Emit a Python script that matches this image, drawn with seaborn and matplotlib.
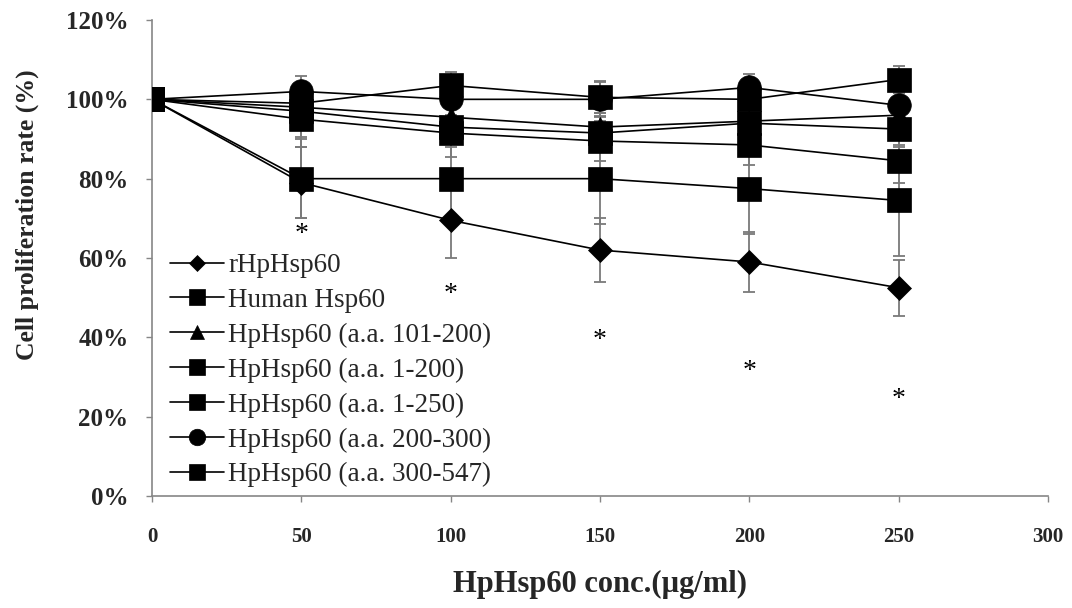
import matplotlib
matplotlib.use("Agg")
import matplotlib.pyplot as plt
import seaborn as sns
import pandas as pd
from matplotlib.ticker import FuncFormatter

conc = [0, 50, 100, 150, 200, 250]
series_names = [
    "rHpHsp60",
    "Human Hsp60",
    "HpHsp60 (a.a. 101-200)",
    "HpHsp60 (a.a. 1-200)",
    "HpHsp60 (a.a. 1-250)",
    "HpHsp60 (a.a. 200-300)",
    "HpHsp60 (a.a. 300-547)",
]
rhphsp60 = [100, 79, 69.5, 62, 59, 52.5]
rhphsp60_err = [0, 9, 9.5, 8, 7.5, 7]
human = [100, 80, 80, 80, 77.5, 74.5]
human_err = [0, 10, 10, 11.5, 11.5, 14]
aa101_200 = [100, 98, 95.5, 93, 94.5, 96]
aa101_200_err = [0, 4, 4, 3.5, 4, 4]
aa1_200 = [100, 97, 93, 91.5, 94, 92.5]
aa1_200_err = [0, 6.5, 5, 4, 4, 4.5]
aa1_250 = [100, 95, 91.5, 89.5, 88.5, 84.5]
aa1_250_err = [0, 7, 6, 5, 5, 5.5]
aa200_300 = [100, 102, 100, 100, 103, 98.5]
aa200_300_err = [0, 4, 4, 4.3, 3.3, 4]
aa300_547 = [100, 99, 103.5, 100.5, 100, 105]
aa300_547_err = [0, 4, 3.3, 4, 4, 3.3]

star_x = [50, 100, 150, 200, 250]
star_y = [65.8, 50.8, 39.3, 31.3, 24.3]

y_ticks = [0, 20, 40, 60, 80, 100, 120]
x_ticks = [0, 50, 100, 150, 200, 250, 300]

values = [rhphsp60, human, aa101_200, aa1_200, aa1_250, aa200_300, aa300_547]
errors = [rhphsp60_err, human_err, aa101_200_err, aa1_200_err, aa1_250_err,
          aa200_300_err, aa300_547_err]
marker_list = ["D", "s", "^", "s", "s", "o", "s"]
msizes = [12, 17, 15, 17, 17, 17, 17]

rows = []
for name, vals in zip(series_names, values):
    for c, v in zip(conc, vals):
        rows.append({"conc": c, "rate": v, "series": name})
df = pd.DataFrame(rows)

sns.set_style("ticks")
plt.rcParams["font.family"] = ["Liberation Serif", "DejaVu Serif"]

fig = plt.figure(figsize=(10.72, 6.08), dpi=100)
ax = fig.add_axes([152 / 1072, 1 - 496 / 608, 896 / 1072, 476 / 608])

# error bars
for vals, errs in zip(values, errors):
    eb = ax.errorbar(conc, vals, yerr=errs, fmt="none", ecolor="#7a7a7a",
                     elinewidth=1.3, capsize=4.5, capthick=1.3, zorder=1)
    for cl in eb[1]:
        cl.set_color("black")

for name, vals, m, ms in zip(series_names, values, marker_list, msizes):
    sub = df[df["series"] == name]
    sns.lineplot(data=sub, x="conc", y="rate", ax=ax, color="black",
                 marker=m, markersize=ms, markeredgecolor="black",
                 markeredgewidth=0.5, linewidth=1.2, label=name, zorder=3)

for sx, sy in zip(star_x, star_y):
    ax.text(sx, sy, "*", fontsize=20, ha="center", va="center", color="black")

ax.set_xlim(0, 300)
ax.set_ylim(0, 120)
ax.set_xticks(x_ticks)
ax.set_yticks(y_ticks)
ax.yaxis.set_major_formatter(FuncFormatter(lambda v, p: f"{v:.0f}%"))

for lab in ax.get_yticklabels():
    lab.set_fontweight("bold")
    lab.set_fontsize(18)
for lab in ax.get_xticklabels():
    lab.set_fontweight("bold")
    lab.set_fontsize(15)

ax.tick_params(axis="y", direction="out", length=4, width=1, color="#868686", pad=13)
ax.tick_params(axis="x", direction="out", length=4, width=1, color="#868686", pad=18)

for s in ["top", "right"]:
    ax.spines[s].set_visible(False)
for s in ["left", "bottom"]:
    ax.spines[s].set_color("#868686")
    ax.spines[s].set_linewidth(1.2)

ax.set_xlabel("HpHsp60 conc.(µg/ml)", fontsize=22, fontweight="bold")
ax.set_ylabel("Cell proliferation rate (%)", fontsize=18.5, fontweight="bold")
ax.xaxis.set_label_coords(0.5, -0.185)
ax.xaxis.label.set_va("center")
ax.yaxis.set_label_coords(-0.1395, 0.59)
ax.yaxis.label.set_va("center")

handles, labels = ax.get_legend_handles_labels()
ax.legend(handles, labels, loc="lower left", bbox_to_anchor=(0.02, 0.018),
          frameon=False, fontsize=19.5, markerscale=0.7, handlelength=2.0,
          handletextpad=0.15, labelspacing=0.36, borderpad=0, borderaxespad=0)

fig.savefig("out.png", dpi=100)
